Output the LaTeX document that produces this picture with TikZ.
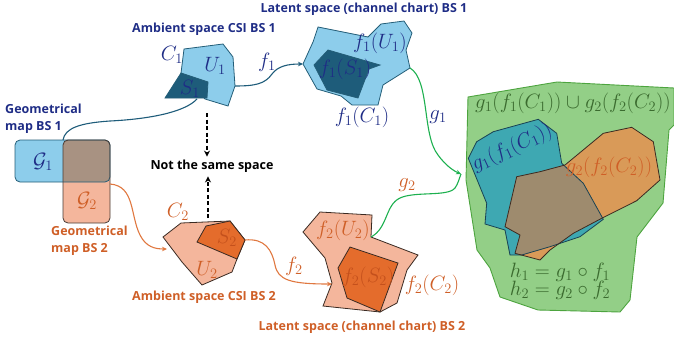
\documentclass[tikz,border=0pt]{standalone}
\usepackage{fontspec}
\setsansfont{Open Sans}
\usetikzlibrary{arrows.meta}
\definecolor{navy}{HTML}{1F2D86}
\definecolor{lblue}{HTML}{8DCDEB}
\definecolor{dblue}{HTML}{1E5C7A}
\definecolor{edgeb}{HTML}{245E78}
\definecolor{lor}{HTML}{F4B69C}
\definecolor{dor}{HTML}{E46C2C}
\definecolor{ortext}{HTML}{CF5F27}
\definecolor{orline}{HTML}{E07840}
\definecolor{edgeo}{HTML}{3A2A22}
\definecolor{gfill}{HTML}{93CF87}
\definecolor{gedge}{HTML}{4DA43F}
\definecolor{gtext}{HTML}{3B6B2F}
\definecolor{tealf}{HTML}{3EA8B2}
\definecolor{orf}{HTML}{D99A58}
\definecolor{overl}{HTML}{9E8B6E}
\definecolor{gline}{HTML}{1DB04F}
\definecolor{gover}{HTML}{A89282}
\definecolor{s2text}{HTML}{C4501C}
\tikzset{
  lab/.style={font=\sffamily\bfseries\fontsize{12.5}{15}\selectfont, inner sep=0pt},
  mth/.style={font=\fontsize{20}{22}\selectfont, inner sep=0pt},
  conn/.style={line width=1.1pt},
  tip/.style={-{Stealth[length=5pt,width=4.5pt]}}
}
\begin{document}
\begin{tikzpicture}[x=1pt,y=-1pt]
\useasboundingbox (0,0) rectangle (674,341);

% ---------- geometrical maps
\fill[lblue, rounded corners=5pt] (15,140) rectangle (110,182);
\fill[lor, rounded corners=5pt] (63,140) rectangle (110,223);
\begin{scope}
\clip[rounded corners=5pt] (15,140) rectangle (110,182);
\fill[gover, rounded corners=5pt] (63,140) rectangle (110,223);
\end{scope}
\draw[edgeb, line width=0.8pt, rounded corners=5pt] (15,140) rectangle (110,182);
\draw[edgeo!80!gray, line width=0.8pt, rounded corners=5pt] (63,140) rectangle (110,223);
\node[mth, text=navy] (G1) at (43,162) {$\mathcal{G}_1$};
\node[mth, text=ortext] (G2) at (87,201) {$\mathcal{G}_2$};
\coordinate (g1top) at (63,140);
\coordinate (g2r) at (110,184);

% ---------- ambient 1
\draw[edgeb, fill=lblue, line width=0.8pt] (184,49) -- (223,44) -- (233,57) -- (235,86) -- (228,106) -- (205,99) -- (181,73) -- cycle;
\draw[edgeb, fill=dblue, line width=0.8pt] (181,73) -- (208,82) -- (207,98) -- (165,98) -- cycle;
\coordinate (s1b) at (197,99);
\coordinate (c1r) at (235,86);
\node[mth, text=navy] at (172,55) {$C_1$};
\node[mth, text=navy] at (215,66) {$U_1$};
\node[mth, text=navy] at (190,89) {$S_1$};

% ---------- latent 1
\draw[edgeb, fill=lblue, line width=0.8pt] (318,27) -- (368,37) -- (381,24) -- (404,21) -- (412,33) -- (406,50) -- (410,68) -- (383,85) -- (378,105) -- (352,105) -- (341,96) -- (317,89) -- (303,64) -- (313,42) -- cycle;
\draw[edgeb, fill=dblue, line width=0.8pt] (328,50) -- (380,65) -- (369,69) -- (358,98) -- (327,90) -- (314,65) -- cycle;
\coordinate (l1l) at (303,64);
\coordinate (l1r) at (410,68);
\node[mth, text=navy] at (380,43) {$f_1(U_1)$};
\node[mth, text=navy] at (345,69) {$f_1(S_1)$};
\node[mth, text=navy] at (362,117) {$f_1(C_1)$};

% ---------- ambient 2
\draw[edgeo, fill=lor, line width=0.8pt] (163,237) -- (181,223) -- (205,222) -- (230,221) -- (245,240) -- (237,259) -- (232,272) -- (202,285) -- (182,262) -- cycle;
\draw[edgeo, fill=dor, line width=0.8pt] (197,242) -- (206,226) -- (230,221) -- (245,240) -- (237,259) -- cycle;
\coordinate (c2l) at (167,249);
\coordinate (s2r) at (245,240);
\node[mth, text=ortext] at (178,212) {$C_2$};
\node[mth, text=s2text] at (227,238) {$S_2$};
\node[mth, text=ortext] at (207,270) {$U_2$};

% ---------- latent 2
\draw[edgeo, fill=lor, line width=0.8pt] (320,212) -- (372,215) -- (371,237) -- (418,255) -- (407,270) -- (397,303) -- (380,312) -- (323,306) -- (332,283) -- (325,258) -- (303,232) -- cycle;
\draw[edgeo, fill=dor, line width=0.8pt] (350,247) -- (398,263) -- (380,312) -- (347,298) -- (338,268) -- cycle;
\coordinate (l2l) at (332,284);
\coordinate (l2u) at (371,237);
\node[mth, text=ortext] at (343,230) {$f_2(U_2)$};
\node[mth, text=s2text] at (368,277) {$f_2(S_2)$};
\node[mth, text=ortext] at (432,285) {$f_2(C_2)$};

% ---------- right region
\draw[gedge, fill=gfill, line width=0.9pt] (468,97) -- (557,82) -- (674,88) -- (674,125) -- (669,130) -- (663,203) -- (637,237) -- (630,300) -- (620,312) -- (538,310) -- (500,297) -- (490,268) -- (477,250) -- (466,180) -- cycle;
\def\tealpath{(468.3,158.3) -- (476.7,141.7) -- (493.3,131.7) -- (538.3,119.3) -- (556.7,133.3) -- (561.7,163.3) -- (583.3,183.3) -- (603.3,219.3) -- (580,236.7) -- (550,246.7) -- (521.7,255) -- (510,255) -- (505,230) -- (485,224) -- (486.7,203.3) -- cycle}
\def\orpath{(516.7,176.7) -- (540,171.7) -- (565,165) -- (603.3,133.3) -- (631.7,127.3) -- (653.3,141.7) -- (660,180) -- (636.7,200.7) -- (601.7,218.3) -- (573.3,233.3) -- (550,250) -- (540,260) -- (515,253.3) -- (520,235) -- (505,226.7) -- cycle}
\fill[tealf] \tealpath;
\fill[orf] \orpath;
\begin{scope}
\clip \tealpath;
\fill[overl] \orpath;
\end{scope}
\draw[edgeb!70!black, line width=0.8pt] \tealpath;
\draw[edgeo, line width=0.8pt] \orpath;
\coordinate (gin) at (461,174);
\node[mth, text=gtext] at (573,103) {$g_1(f_1(C_1)) \cup g_2(f_2(C_2))$};
\node[mth, text=navy, rotate=25] at (512,148) {$g_1(f_1(C_1))$};
\node[mth, text=ortext] at (609,167) {$g_2(f_2(C_2))$};
\node[mth, text=gtext] at (560,272) {$h_1 = g_1 \circ f_1$};
\node[mth, text=gtext] at (560,290) {$h_2 = g_2 \circ f_2$};

% ---------- connectors
\draw[dblue, conn] (s1b) .. controls (185,112) and (150,119) .. (110,121) .. controls (80,123) and (65,128) .. (g1top);
\draw[dblue, conn, tip] (c1r) .. controls (255,86) and (265,84) .. (272,74) .. controls (278,66) and (288,64) .. (l1l);
\node[mth, text=navy] at (267,62) {$f_1$};
\draw[gline, conn, tip] (l1r) .. controls (430,80) and (422,135) .. (438,155) .. controls (446,166) and (454,171) .. (gin);
\node[mth, text=navy] at (438,117) {$g_1$};
\draw[gline, conn] (l2u) .. controls (388,228) and (385,205) .. (400,198) .. controls (415,191) and (448,197) .. (455,188) .. controls (458,184) and (459,179) .. (gin);
\node[mth, text=ortext] at (407,185) {$g_2$};
\draw[orline, conn, tip] (g2r) .. controls (135,186) and (130,215) .. (140,235) .. controls (146,247) and (155,249) .. (c2l);
\draw[orline, conn, tip] (s2r) .. controls (265,238) and (272,250) .. (275,265) .. controls (278,280) and (290,284) .. (l2l);
\node[mth, text=ortext] at (294,266) {$f_2$};

% ---------- not the same space
\node[lab, text=black] (nss) at (212,166) {Not the same space};
\coordinate (dA) at (207,113);
\coordinate (dB) at (208,218);
\draw[black, line width=1.6pt, dash pattern=on 4pt off 2.5pt, -{Stealth[length=6pt,width=6pt]}] (dA) -- ([yshift=3pt]nss.north -| dA);
\draw[black, line width=1.6pt, dash pattern=on 4pt off 2.5pt, -{Stealth[length=6pt,width=6pt]}] (dB) -- ([yshift=-4pt]nss.south -| dB);

% ---------- titles
\node[lab, text=navy] at (364,9) {Latent space (channel chart) BS 1};
\node[lab, text=navy] at (204,29) {Ambient space CSI BS 1};
\node[lab, text=navy, anchor=west, align=left] at (5,119) {Geometrical\\[2pt]map BS 1};
\node[lab, text=ortext, anchor=west, align=left] at (51,241) {Geometrical\\[2pt]map BS 2};
\node[lab, text=ortext] at (204,297) {Ambient space CSI BS 2};
\node[lab, text=ortext] at (362,327) {Latent space (channel chart) BS 2};
\end{tikzpicture}
\end{document}
